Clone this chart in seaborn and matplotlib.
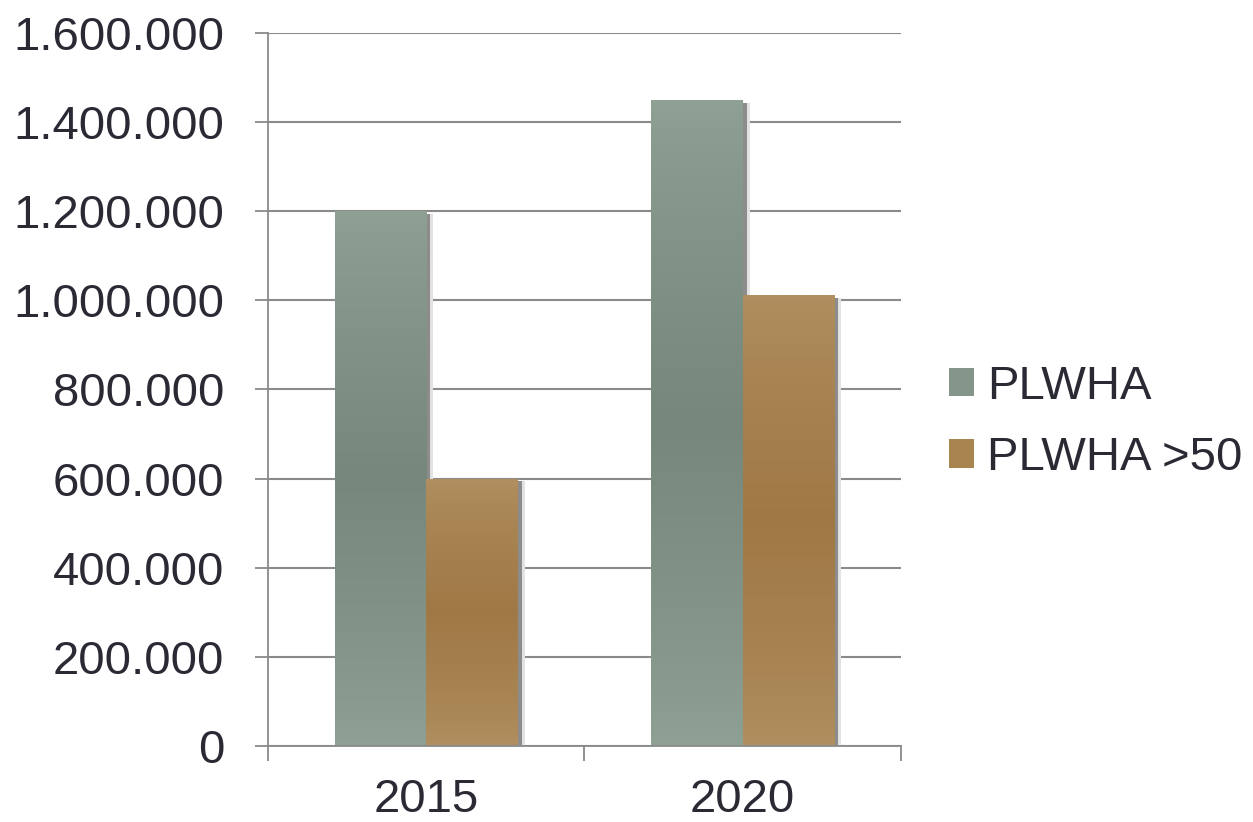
import numpy as np
import pandas as pd
import seaborn as sns
import matplotlib.pyplot as plt
import matplotlib.patheffects as pe
from matplotlib.patches import Patch
from matplotlib.colors import to_rgb

# data
years = ["2015", "2020"]
plwha = [1200000, 1450000]
plwha_50 = [600000, 1012000]
series_names = ["PLWHA", "PLWHA >50"]
y_ticks = [0, 200000, 400000, 600000, 800000, 1000000, 1200000, 1400000, 1600000]
y_tick_labels = ["0", "200.000", "400.000", "600.000", "800.000",
                 "1.000.000", "1.200.000", "1.400.000", "1.600.000"]

# light (top/bottom) and dark (middle) shades of each series
light = {"PLWHA": "#8fa094", "PLWHA >50": "#b18f60"}
dark = {"PLWHA": "#76877b", "PLWHA >50": "#9f7845"}
mid = {"PLWHA": "#84958a", "PLWHA >50": "#a8844f"}

df = pd.DataFrame({
    "year": years * 2,
    "value": plwha + plwha_50,
    "series": [series_names[0]] * 2 + [series_names[1]] * 2,
})

sns.set_theme(style="white")
plt.rcParams["font.family"] = ["Liberation Sans", "DejaVu Sans"]
text_col = "#2a2a35"
grid_col = "#8a8a8a"

fig = plt.figure(figsize=(12.53, 8.22), dpi=100)
ax = fig.add_axes([0.2139, 0.0925, 0.5051, 0.8674])

sns.barplot(data=df, x="year", y="value", hue="series", palette=mid,
            width=0.578, ax=ax, legend=False, linewidth=0, saturation=1)

# gradient fill + shadow for each bar
shadow = [pe.SimplePatchShadow(offset=(5, -2), shadow_rgbFace="#e2e2e2", alpha=1),
          pe.SimplePatchShadow(offset=(3, -2), shadow_rgbFace="#8c8c8c", alpha=1),
          pe.Normal()]
hue_order = series_names
for i, cont in enumerate(ax.containers):
    name = hue_order[i]
    c1 = np.array(to_rgb(light[name]))
    c2 = np.array(to_rgb(dark[name]))
    s = np.linspace(0, 1, 256)
    t = 1 - np.abs(2 * s - 1)
    t = t ** 0.8
    grad = (c1[None, :] * (1 - t[:, None]) + c2[None, :] * t[:, None])[:, None, :]
    for bar in cont:
        bar.set_zorder(2)
        bar.set_path_effects(shadow)
        x0, w = bar.get_x(), bar.get_width()
        y0, h = bar.get_y(), bar.get_height()
        im = ax.imshow(grad, extent=[x0, x0 + w, y0, y0 + h], aspect="auto",
                       origin="upper", zorder=2.1, interpolation="bilinear")
        im.set_clip_path(bar)

ax.set_xlim(-0.5, 1.5)
ax.set_ylim(0, 1600000)
ax.set_yticks(y_ticks)
ax.set_yticklabels(y_tick_labels)
ax.set_xticks([-0.5, 0.5, 1.5])
ax.set_xticklabels([])
ax.set_xticks([0, 1], minor=True)
ax.set_xticklabels(years, minor=True)
ax.tick_params(axis="x", which="minor", bottom=True, length=0, pad=23,
               labelsize=34, labelcolor=text_col)
ax.tick_params(axis="x", which="major", bottom=True, length=11, width=1.3,
               color=grid_col, direction="out")
ax.tick_params(axis="y", left=True, length=9.5, width=1.3, color=grid_col, direction="out",
               pad=22, labelsize=34, labelcolor=text_col)
ax.set_xlabel("")
ax.set_ylabel("")

ax.set_axisbelow(True)
ax.yaxis.grid(True, color=grid_col, linewidth=1.5)
ax.xaxis.grid(False)
for side in ["top", "right"]:
    ax.spines[side].set_visible(False)
for side in ["left", "bottom"]:
    ax.spines[side].set_color(grid_col)
    ax.spines[side].set_linewidth(1.3)

handles = [Patch(facecolor=mid[n], edgecolor="none", label=n) for n in series_names]
fig.legend(handles=handles, loc="center left", bbox_to_anchor=(0.757, 0.486),
           frameon=False, fontsize=34, labelcolor=text_col,
           handlelength=0.55, handleheight=0.55, handletextpad=0.27,
           labelspacing=0.58, borderaxespad=0, borderpad=0)

fig.savefig("out.png", dpi=100)
